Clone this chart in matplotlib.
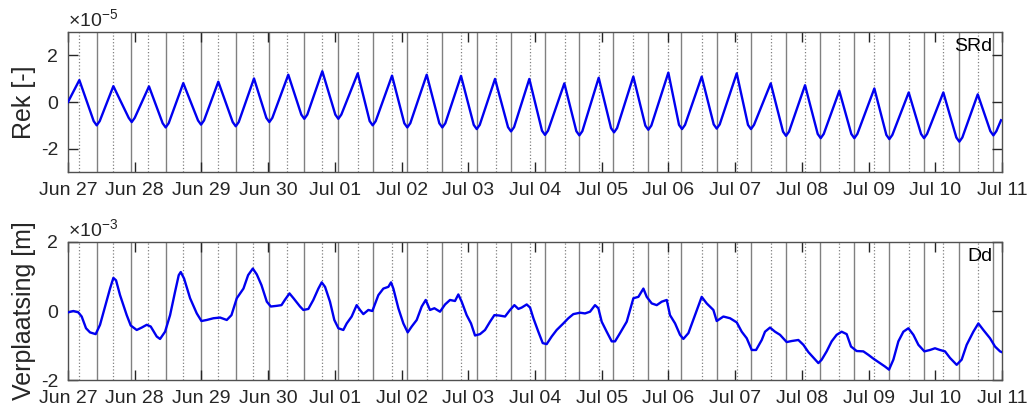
import matplotlib
matplotlib.use("Agg")
import matplotlib.pyplot as plt
import matplotlib.dates as mdates
from datetime import datetime

plt.rcParams["font.family"] = ["Liberation Sans", "DejaVu Sans"]
plt.rcParams["mathtext.fontset"] = "custom"
plt.rcParams["mathtext.rm"] = "Liberation Sans"
plt.rcParams["axes.unicode_minus"] = False

outputFigure = "out.png"
startDate = datetime(2017, 6, 27)
nDays = 14
textColor = "#262626"
lineColor = "#0000f0"
tideColor = "#808080"

# tide moments in days after Jun 27 00:00
highWater = [0.169, 0.679, 1.204, 1.728, 2.253, 2.778, 3.287, 3.803, 4.343,
             4.857, 5.377, 5.891, 6.411, 6.926, 7.450, 7.964, 8.474, 8.999,
             9.499, 10.024, 10.534, 11.048, 11.562, 12.087, 12.602, 13.121,
             13.637]
lowWater = [0.430, 0.944, 1.465, 1.994, 2.514, 3.018, 3.538, 4.052, 4.568,
            5.086, 5.611, 6.127, 6.641, 7.150, 7.665, 8.174, 8.690, 9.189,
            9.724, 10.234, 10.759, 11.273, 11.787, 12.312, 12.832, 13.352,
            13.871]

# strain SRd, x 1e-5 : peaks, troughs and the rounded flanks of each trough
rekDays = [0.0, 0.17, 0.385, 0.43, 0.475, 0.68, 0.91, 0.955, 1.0, 1.214,
           1.419, 1.464, 1.509, 1.728, 1.949, 1.994, 2.039, 2.253, 2.469,
           2.514, 2.559, 2.788, 2.973, 3.018, 3.063, 3.302, 3.497, 3.542,
           3.587, 3.812, 4.007, 4.052, 4.097, 4.343, 4.522, 4.567, 4.612,
           4.857, 5.041, 5.086, 5.131, 5.377, 5.566, 5.611, 5.656, 5.891,
           6.082, 6.127, 6.172, 6.401, 6.596, 6.641, 6.686, 6.915, 7.105,
           7.150, 7.195, 7.440, 7.62, 7.665, 7.71, 7.955, 8.14, 8.185,
           8.23, 8.474, 8.654, 8.699, 8.744, 8.999, 9.159, 9.204, 9.249,
           9.499, 9.679, 9.724, 9.769, 10.024, 10.193, 10.238, 10.283,
           10.534, 10.718, 10.763, 10.808, 11.048, 11.238, 11.283, 11.328,
           11.562, 11.742, 11.787, 11.832, 12.087, 12.267, 12.312, 12.357,
           12.602, 12.787, 12.832, 12.877, 13.121, 13.316, 13.361, 13.406,
           13.637, 13.826, 13.871, 13.916, 13.986]
rekValues = [0.0, 0.94, -0.82, -1.0, -0.82, 0.68, -0.68, -0.86, -0.68, 0.67,
             -0.91, -1.09, -0.91, 0.81, -0.79, -0.97, -0.79, 0.87, -0.86,
             -1.04, -0.86, 1.01, -0.68, -0.86, -0.68, 1.17, -0.54, -0.72,
             -0.54, 1.32, -0.54, -0.72, -0.54, 1.23, -0.82, -1.0, -0.82,
             1.13, -0.91, -1.09, -0.91, 1.17, -0.91, -1.09, -0.91, 1.12,
             -0.98, -1.16, -0.98, 0.99, -1.08, -1.26, -1.08, 0.99, -1.23,
             -1.41, -1.23, 0.80, -1.25, -1.43, -1.25, 1.04, -1.12, -1.30,
             -1.12, 1.09, -1.01, -1.19, -1.01, 1.26, -0.98, -1.16, -0.98,
             1.09, -0.96, -1.14, -0.96, 1.23, -0.98, -1.16, -0.98, 0.80,
             -1.27, -1.45, -1.27, 0.72, -1.37, -1.55, -1.37, 0.48, -1.37,
             -1.55, -1.37, 0.58, -1.41, -1.59, -1.41, 0.41, -1.37, -1.55,
             -1.37, 0.41, -1.52, -1.70, -1.52, 0.33, -1.25, -1.43, -1.25,
             -0.78]

# displacement Dd, x 1e-3 m
verDays = [0.0, 0.08, 0.155, 0.205, 0.27, 0.33, 0.415, 0.48, 0.555, 0.63,
           0.68, 0.72, 0.78, 0.88, 0.94, 1.03, 1.105, 1.18, 1.24, 1.33, 1.38,
           1.455, 1.53, 1.605, 1.66, 1.69, 1.74, 1.83, 1.93, 2.00, 2.08, 2.18,
           2.28, 2.38, 2.45, 2.53, 2.63, 2.70, 2.77, 2.83, 2.90, 2.98, 3.04,
           3.13, 3.20, 3.25, 3.32, 3.38,
           3.478, 3.528, 3.603, 3.677, 3.753, 3.803, 3.853, 3.927, 3.992,
           4.053, 4.127, 4.178, 4.252, 4.327, 4.377, 4.427, 4.502, 4.562,
           4.652, 4.727, 4.802, 4.842, 4.877, 4.952, 5.027, 5.092, 5.152,
           5.227, 5.302, 5.362, 5.426, 5.492, 5.576, 5.652, 5.726, 5.801,
           5.851, 5.901, 5.976, 6.041, 6.101, 6.176, 6.251, 6.326, 6.391,
           6.461, 6.551, 6.626, 6.691, 6.751, 6.801, 6.876,
           6.926, 6.976, 7.050, 7.116, 7.175, 7.250, 7.325, 7.425, 7.500,
           7.575, 7.675, 7.750, 7.825, 7.900, 7.950, 8.000, 8.075, 8.150,
           8.200, 8.275, 8.375, 8.425, 8.475, 8.550, 8.625, 8.675, 8.750,
           8.825, 8.900, 8.975, 9.024, 9.100, 9.174, 9.224, 9.300, 9.399,
           9.499, 9.574, 9.674, 9.724, 9.824, 9.924, 10.024, 10.099, 10.174,
           10.249, 10.314, 10.399,
           10.448, 10.523, 10.598, 10.673, 10.773, 10.848, 10.948, 11.023,
           11.098, 11.172, 11.248, 11.298, 11.372, 11.447, 11.522, 11.597,
           11.672, 11.737, 11.822, 11.922, 11.997, 12.072, 12.172, 12.247,
           12.307, 12.372, 12.447, 12.522, 12.597, 12.672, 12.747, 12.837,
           12.921, 12.996, 13.071, 13.146, 13.221, 13.321, 13.396, 13.471,
           13.571, 13.646, 13.721, 13.821, 13.896, 13.971, 13.995]
verValues = [-0.04, 0.0, -0.04, -0.16, -0.50, -0.62, -0.67, -0.40, 0.13, 0.65,
             0.96, 0.89, 0.46, -0.12, -0.42, -0.55, -0.48, -0.40, -0.45,
             -0.74, -0.81, -0.60, -0.12, 0.56, 1.04, 1.13, 0.94, 0.37, -0.07,
             -0.29, -0.26, -0.21, -0.19, -0.26, -0.12, 0.37, 0.65, 1.04, 1.23,
             1.06, 0.75, 0.27, 0.13, 0.15, 0.17, 0.32, 0.51, 0.37,
             0.13, 0.03, 0.06, 0.32, 0.65, 0.83, 0.70, 0.27, -0.26, -0.50,
             -0.55, -0.36, -0.16, 0.17, 0.03, -0.09, 0.03, 0.0, 0.46, 0.65,
             0.70, 0.83, 0.65, 0.08, -0.36, -0.62, -0.45, -0.26, 0.13, 0.32,
             0.03, 0.08, -0.02, 0.19, 0.32, 0.29, 0.48, 0.27, -0.12, -0.36,
             -0.71, -0.67, -0.55, -0.31, -0.12, -0.13, -0.16, 0.03, 0.17,
             0.06, 0.10, 0.19,
             0.10, -0.21, -0.60, -0.93, -0.96, -0.74, -0.55, -0.36, -0.21,
             -0.09, -0.05, -0.07, -0.02, 0.17, 0.08, -0.31, -0.60, -0.88,
             -0.88, -0.64, -0.31, 0.03, 0.37, 0.41, 0.65, 0.41, 0.22, 0.17,
             0.27, 0.32, -0.12, -0.36, -0.69, -0.81, -0.64, -0.12, 0.41, 0.22,
             0.03, -0.29, -0.16, -0.21, -0.33, -0.60, -0.79, -1.13, -1.13,
             -0.84,
             -0.60, -0.48, -0.60, -0.69, -0.90, -0.87, -0.84, -0.98, -1.19,
             -1.35, -1.51, -1.41, -1.17, -0.88, -0.69, -0.60, -0.67, -1.03,
             -1.16, -1.17, -1.27, -1.38, -1.51, -1.61, -1.70, -1.41, -0.88,
             -0.60, -0.50, -0.69, -0.98, -1.17, -1.13, -1.08, -1.13, -1.17,
             -1.36, -1.56, -1.41, -0.98, -0.60, -0.36, -0.55, -0.79, -1.03,
             -1.17, -1.19]

t0 = mdates.date2num(startDate)

figure = plt.figure(figsize=(10.32, 4.11), dpi=100)
axTop = figure.add_axes([0.0659, 0.5815, 0.905, 0.3406])
axBot = figure.add_axes([0.0659, 0.0754, 0.905, 0.3358])

panels = [
    (axTop, rekDays, rekValues, (-3, 3), "Rek [-]", "SRd", "-5"),
    (axBot, verDays, verValues, (-2, 2), "Verplaatsing [m]", "Dd", "-3"),
]

for ax, days, values, ylim, ylabel, tag, exponent in panels:
    for d in lowWater:
        ax.axvline(t0 + d, color=tideColor, lw=1.0, zorder=1)
    for d in highWater:
        ax.axvline(t0 + d, color=tideColor, lw=0.9, ls=":", zorder=1)
    ax.plot([t0 + d for d in days], values, color=lineColor, lw=1.7,
            zorder=3, solid_joinstyle="round")

    ax.set_xlim(t0, t0 + nDays)
    ax.set_ylim(*ylim)
    ax.set_yticks([-2, 0, 2])
    ax.xaxis.set_major_locator(mdates.DayLocator())
    ax.xaxis.set_major_formatter(mdates.DateFormatter("%b %d"))
    ax.tick_params(direction="in", top=True, right=True, length=7,
                   width=1, labelsize=14, colors=textColor, pad=7)
    for spine in ax.spines.values():
        spine.set_color("#505050")
        spine.set_linewidth(1)
    ax.set_ylabel(ylabel, fontsize=18, color=textColor)
    ax.yaxis.set_label_coords(-0.034, 0.5)
    ax.text(0.99, 0.955, tag, transform=ax.transAxes, ha="right", va="top",
            fontsize=14, color="black")
    ax.text(0.0, 1.01, r"$\times 10^{" + exponent + "}$",
            transform=ax.transAxes, ha="left", va="bottom", fontsize=14,
            color=textColor)

plt.savefig(outputFigure, dpi=100)
